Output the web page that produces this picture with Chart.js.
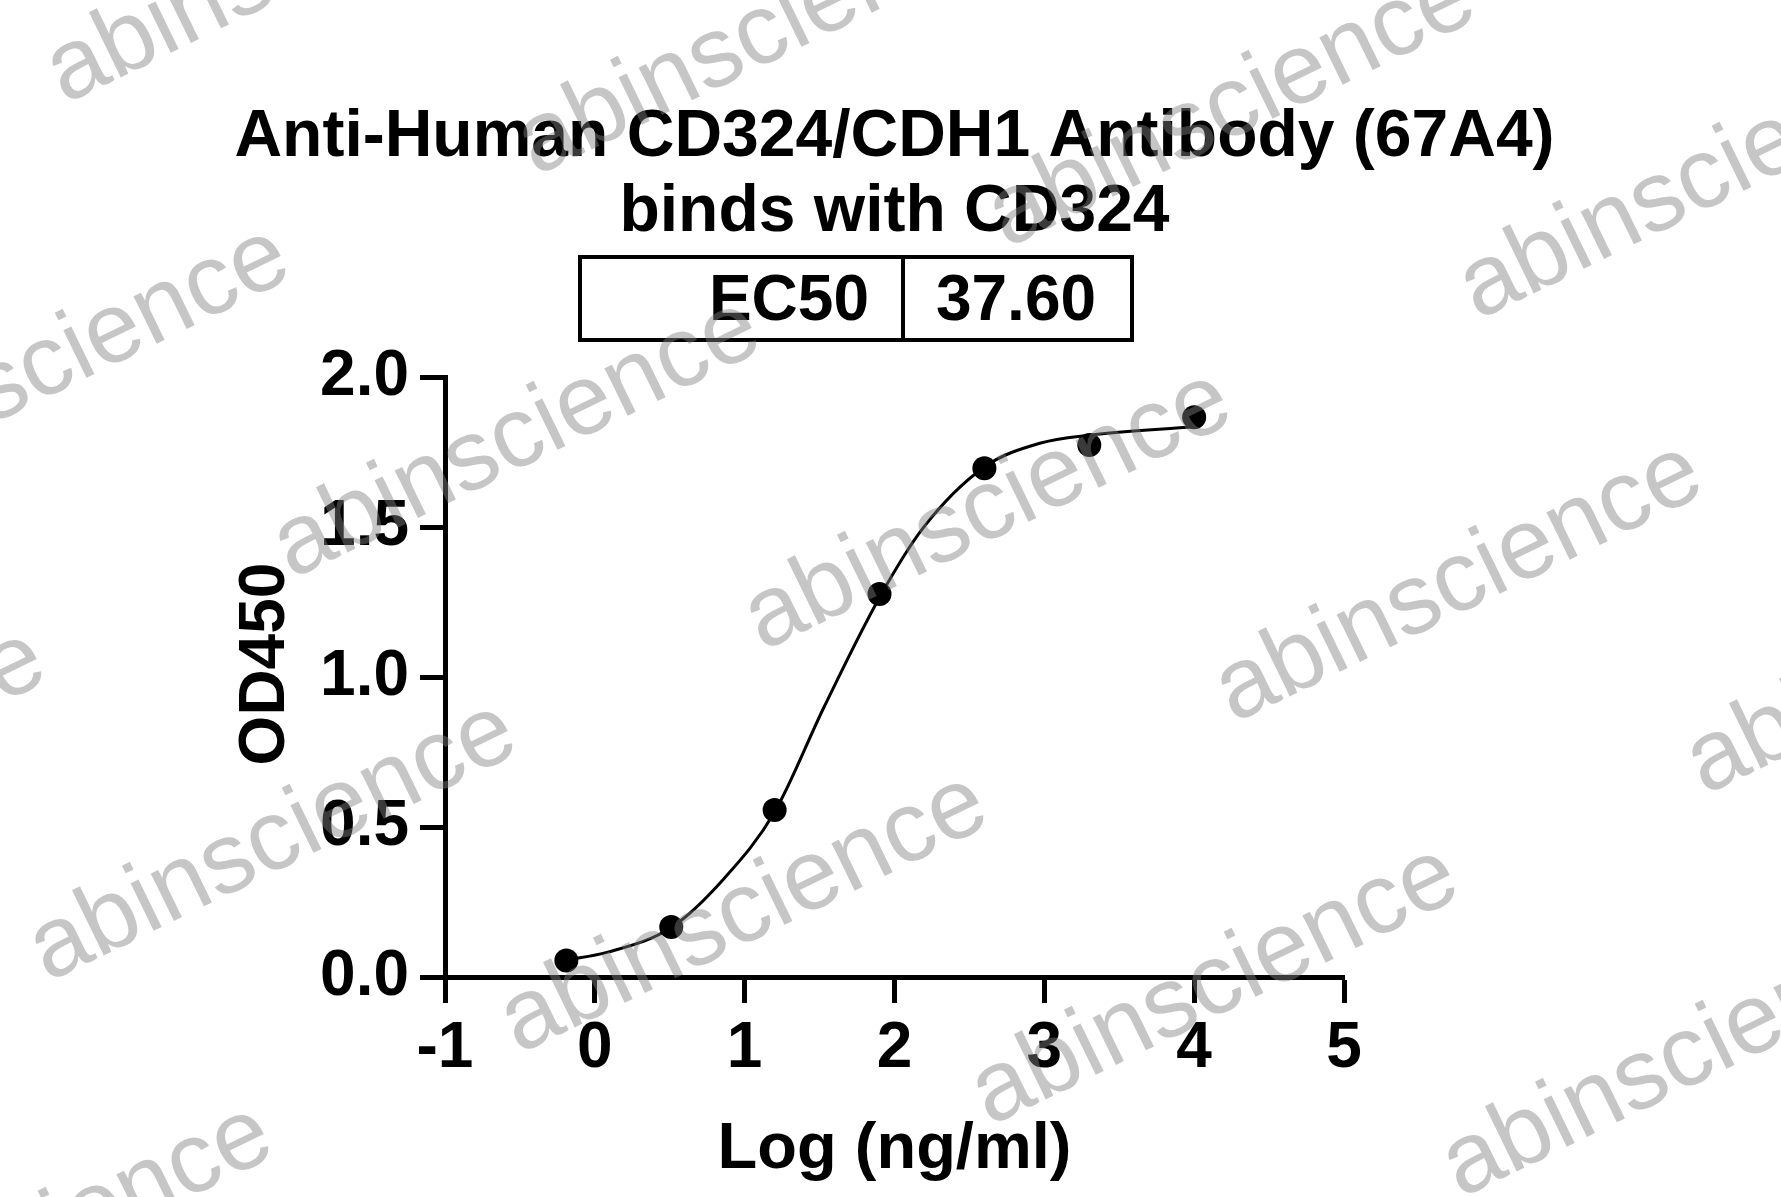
<!DOCTYPE html>
<html>
<head>
<meta charset="utf-8">
<title>Anti-Human CD324/CDH1 Antibody (67A4) binds with CD324</title>
<script src="https://cdn.jsdelivr.net/npm/chart.js@4.4.1/dist/chart.umd.min.js"></script>
<style>
  html, body { margin: 0; padding: 0; background: #fff; }
  #wrap { width: 1781px; height: 1197px; }
</style>
</head>
<body>
<div id="wrap"><canvas id="chart" width="1781" height="1197"></canvas></div>
<script>
// measured points: log10 concentration vs OD450
const logConc = [-0.19, 0.51, 1.2, 1.9, 2.6, 3.3, 4.0];
const od450 = [0.055, 0.167, 0.557, 1.277, 1.696, 1.773, 1.866];

// fitted curve
const fitX = [-0.19, 0.08, 0.51, 0.86, 1.2, 1.53, 1.9, 2.19, 2.6, 2.97, 3.3, 4.0];
const fitY = [0.057, 0.082, 0.165, 0.327, 0.55, 0.9, 1.265, 1.496, 1.7, 1.779, 1.806, 1.834];

const xTicks = [-1, 0, 1, 2, 3, 4, 5];
const yTicks = [0, 0.5, 1.0, 1.5, 2.0];

const titleLines = ['Anti-Human CD324/CDH1 Antibody (67A4)', 'binds with CD324'];
const ec50Label = 'EC50';
const ec50Value = '37.60';
const xTitle = 'Log (ng/ml)';
const yTitle = 'OD450';
const watermark = 'abinscience';

const FONT = "'Liberation Sans', Arial, sans-serif";

// titles, EC50 box, axis titles and the watermark
const decorations = {
    id: 'decorations',
    afterDraw(chart) {
        const ctx = chart.ctx;
        const area = chart.chartArea;
        const cx = (area.left + area.right) / 2;
        ctx.save();
        ctx.fillStyle = '#000';
        ctx.strokeStyle = '#000';

        ctx.font = `bold 66px ${FONT}`;
        ctx.textAlign = 'center';
        ctx.textBaseline = 'alphabetic';
        ctx.fillText(titleLines[0], cx, 156);
        ctx.fillText(titleLines[1], cx, 231);

        // EC50 table
        ctx.lineWidth = 4;
        ctx.strokeRect(580, 257, 552, 83);
        ctx.beginPath();
        ctx.moveTo(903, 257);
        ctx.lineTo(903, 340);
        ctx.stroke();
        ctx.font = `bold 64px ${FONT}`;
        ctx.textAlign = 'right';
        ctx.fillText(ec50Label, 869, 320);
        ctx.textAlign = 'center';
        ctx.fillText(ec50Value, 1016, 320);

        // axis titles
        ctx.font = `bold 65px ${FONT}`;
        ctx.fillText(xTitle, cx, 1168);
        ctx.save();
        ctx.translate(284, 664);
        ctx.rotate(-Math.PI / 2);
        ctx.font = `bold 64px ${FONT}`;
        ctx.fillText(yTitle, 0, 0);
        ctx.restore();

        // watermark grid
        ctx.font = `100px ${FONT}`;
        ctx.textAlign = 'center';
        ctx.textBaseline = 'middle';
        ctx.fillStyle = 'rgba(128,128,128,0.45)';
        for (let r = -2; r <= 3; r++) {
            for (let c = -3; c <= 3; c++) {
                const x = 988 + c * 471 - r * 244;
                const y = 511 + c * 72 + r * 403;
                if (x < -400 || x > 2200 || y < -200 || y > 1300) continue;
                ctx.save();
                ctx.translate(x, y);
                ctx.rotate(-26 * Math.PI / 180);
                ctx.fillText(watermark, 0, 0);
                ctx.restore();
            }
        }
        ctx.restore();
    }
};

const tickFont = { family: FONT, size: 64, weight: 'bold' };

new Chart(document.getElementById('chart'), {
    type: 'scatter',
    data: {
        datasets: [
            {
                label: 'Fit',
                type: 'line',
                data: fitX.map((x, i) => ({ x: x, y: fitY[i] })),
                borderColor: '#000',
                borderWidth: 3,
                pointRadius: 0,
                fill: false,
                cubicInterpolationMode: 'monotone',
                order: 2
            },
            {
                label: 'OD450',
                data: logConc.map((x, i) => ({ x: x, y: od450[i] })),
                backgroundColor: '#000',
                borderColor: '#000',
                borderWidth: 0,
                pointRadius: 12,
                order: 1
            }
        ]
    },
    options: {
        responsive: false,
        animation: false,
        events: [],
        layout: { padding: { left: 0, top: 377, right: 437, bottom: 0 } },
        plugins: {
            legend: { display: false },
            tooltip: { enabled: false },
            title: { display: false }
        },
        scales: {
            x: {
                type: 'linear',
                min: -1,
                max: 5,
                afterBuildTicks: s => { s.ticks = xTicks.map(v => ({ value: v })); },
                afterFit: s => { s.height = 220; },
                border: { display: true, color: '#000', width: 5 },
                grid: { drawOnChartArea: false, drawTicks: true, tickLength: 26, tickWidth: 5, tickColor: '#000' },
                ticks: { color: '#000', font: tickFont, padding: 8, maxRotation: 0, autoSkip: false }
            },
            y: {
                type: 'linear',
                min: 0,
                max: 2,
                afterBuildTicks: s => { s.ticks = yTicks.map(v => ({ value: v })); },
                afterFit: s => { s.width = 445; },
                border: { display: true, color: '#000', width: 5 },
                grid: { drawOnChartArea: false, drawTicks: true, tickLength: 25, tickWidth: 5, tickColor: '#000' },
                ticks: { color: '#000', font: tickFont, padding: 11, callback: v => v.toFixed(1) }
            }
        }
    },
    plugins: [decorations]
});
</script>
</body>
</html>
